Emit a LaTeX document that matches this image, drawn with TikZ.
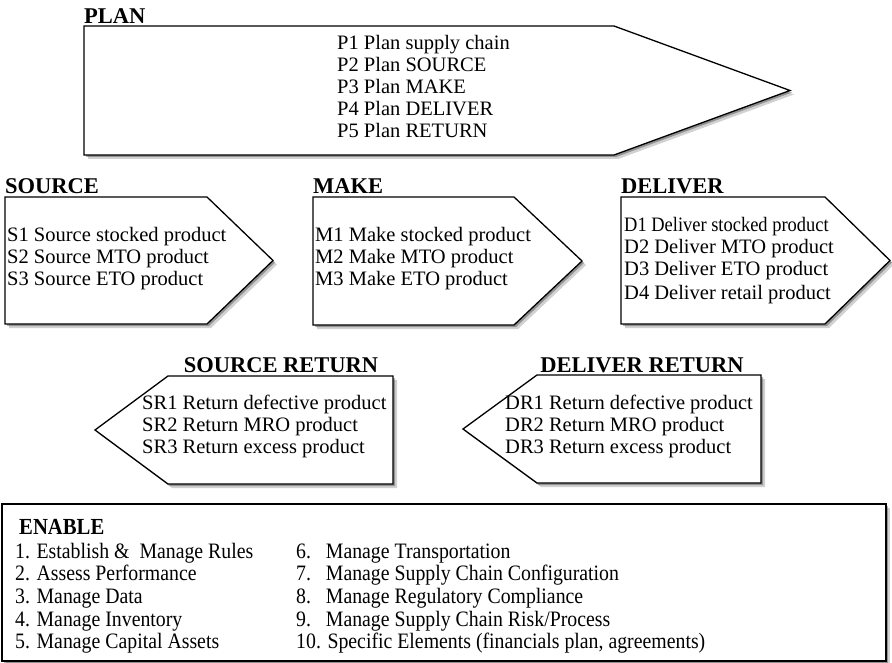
\documentclass[tikz,border=0pt]{standalone}
\usepackage{fontspec}
\setmainfont{Liberation Serif}
\newfontfamily\narrowfont[FakeStretch=0.9]{Liberation Serif}
\usetikzlibrary{shadows}
\tikzset{
  procbox/.style={draw=black, line width=1.3pt, fill=white,
    drop shadow={shadow xshift=4pt, shadow yshift=-4pt, opacity=0.18, fill=black},
    drop shadow={shadow xshift=2pt, shadow yshift=-2pt, opacity=0.3, fill=black}},
  proctitle/.style={anchor=base west, inner sep=0pt, font=\fontsize{22.5}{24}\selectfont\bfseries},
  proctext/.style={anchor=base west, inner sep=0pt, font=\fontsize{20.5}{22}\selectfont},
  enabletext/.style={anchor=base west, inner sep=0pt, font=\fontsize{22}{22}\selectfont\narrowfont},
}
% left, top, corner, point, bottom
\newcommand{\procright}[5]{ \filldraw[procbox] ( #1 , #2 ) -- ( #3 , #2 ) -- ( #4 , #2 * 0.5 + #5 * 0.5 ) -- ( #3 , #5 ) -- ( #1 , #5 ) -- cycle;}
% right, top, corner, point, bottom
\newcommand{\procleft}[5]{ \filldraw[procbox] ( #1 , #2 ) -- ( #3 , #2 ) -- ( #4 , #2 * 0.5 + #5 * 0.5 ) -- ( #3 , #5 ) -- ( #1 , #5 ) -- cycle;}

\begin{document}
\begin{tikzpicture}[x=1pt,y=-1pt]
        \useasboundingbox (0,0) rectangle (892,663);

        % plan
        \procright{84}{26}{614}{790}{155}
        \node[proctitle] (plantitle) at (84,24) {PLAN};
        \node[proctext] (p1) at (337,50) {P1 Plan supply chain};
        \node[proctext] (p2) at (337,72) {P2 Plan SOURCE};
        \node[proctext] (p3) at (337,94) {P3 Plan MAKE};
        \node[proctext] (p4) at (337,116) {P4 Plan DELIVER};
        \node[proctext] (p5) at (337,138) {P5 Plan RETURN};

        % source
        \procright{5}{197}{207}{273}{324}
        \node[proctitle] (sourcetitle) at (5,194) {SOURCE};
        \node[proctext] (s1) at (7,242) {S1 Source stocked product};
        \node[proctext] (s2) at (7,264) {S2 Source MTO product};
        \node[proctext] (s3) at (7,286) {S3 Source ETO product};

        % make
        \procright{313}{197}{514}{582}{325}
        \node[proctitle] (maketitle) at (313,194) {MAKE};
        \node[proctext] (m1) at (315,242) {M1 Make stocked product};
        \node[proctext] (m2) at (315,264) {M2 Make MTO product};
        \node[proctext] (m3) at (315,286) {M3 Make ETO product};

        % deliver
        \procright{621}{197}{825}{890}{324}
        \node[proctitle] (delivertitle) at (621,194) {DELIVER};
        \node[proctext, font=\fontsize{20.5}{22}\selectfont\narrowfont] (d1) at (624,232) {D1 Deliver stocked product};
        \node[proctext] (d2) at (624,254) {D2 Deliver MTO product};
        \node[proctext] (d3) at (624,276) {D3 Deliver ETO product};
        \node[proctext] (d4) at (624,299) {D4 Deliver retail product};

        % source return
        \procleft{393}{376}{168}{95}{484}
        \node[proctitle, anchor=base] (srtitle) at (281,372) {SOURCE RETURN};
        \node[proctext] (sr1) at (142,409) {SR1 Return defective product};
        \node[proctext] (sr2) at (142,431) {SR2 Return MRO product};
        \node[proctext] (sr3) at (142,453) {SR3 Return excess product};

        % deliver return
        \procleft{761}{375}{537}{463}{483}
        \node[proctitle, anchor=base] (drtitle) at (642,372) {DELIVER RETURN};
        \node[proctext] (dr1) at (505,409) {DR1 Return defective product};
        \node[proctext] (dr2) at (505,431) {DR2 Return MRO product};
        \node[proctext] (dr3) at (505,453) {DR3 Return excess product};

        % enable
        \filldraw[procbox] (2,504) rectangle (886,661);
        \node[proctitle, font=\fontsize{23}{24}\selectfont\bfseries\narrowfont] (enabletitle) at (19,534) {ENABLE};
        \node[enabletext] (e1) at (15,558) {1. Establish \&\ \ Manage Rules};
        \node[enabletext] (e2) at (15,580) {2. Assess Performance};
        \node[enabletext] (e3) at (15,603) {3. Manage Data};
        \node[enabletext] (e4) at (15,626) {4. Manage Inventory};
        \node[enabletext] (e5) at (15,648) {5. Manage Capital Assets};
        \node[enabletext] (e6) at (296,558) {6.\ \ \ Manage Transportation};
        \node[enabletext] (e7) at (296,580) {7.\ \ \ Manage Supply Chain Configuration};
        \node[enabletext] (e8) at (296,603) {8.\ \ \ Manage Regulatory Compliance};
        \node[enabletext] (e9) at (296,626) {9.\ \ \ Manage Supply Chain Risk/Process};
        \node[enabletext] (e10) at (296,648) {10. Specific Elements (financials plan, agreements)};
    \end{tikzpicture}
\end{document}
